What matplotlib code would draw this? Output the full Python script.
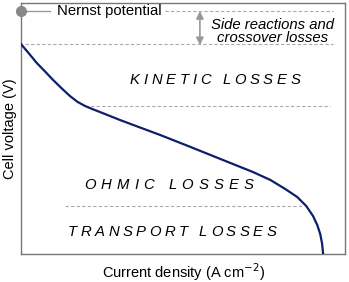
import numpy as np
import matplotlib.pyplot as plt
from matplotlib.font_manager import FontProperties
from matplotlib.textpath import TextToPath

plt.rcParams['font.family'] = ['Liberation Sans', 'DejaVu Sans']

# polarization curve (arbitrary units)
current = [0.0, 0.025, 0.049, 0.075, 0.099, 0.125, 0.151, 0.175, 0.198, 0.22, 0.244,
           0.306, 0.429, 0.52, 0.614, 0.716, 0.769, 0.815, 0.852, 0.880, 0.901,
           0.914, 0.923, 0.929, 0.932]
voltage = [1.046, 0.998, 0.951, 0.908, 0.867, 0.826, 0.787, 0.757, 0.737, 0.722, 0.707,
           0.667, 0.593, 0.535, 0.474, 0.408, 0.369, 0.324, 0.284, 0.239, 0.189,
           0.144, 0.100, 0.050, 0.0]

nernst = 1.21
v_side = 1.046
v_kinetic = 0.737
v_ohmic = 0.239

W, H, DPI = 349, 282, 100
fig = plt.figure(figsize=(W / DPI, H / DPI), dpi=DPI)
ax = fig.add_axes([0.060, 0.0993, 0.929, 0.890])
ax.set_xlim(0, 1)
ax.set_ylim(0, 1.25)

ax.plot(current, voltage, color='#0d1f6b', lw=1.6, solid_joinstyle='round', zorder=3)

# guide lines
dash = dict(color='#aaaaaa', lw=0.8, ls=(0, (3, 2)))
ax.plot([0.444, 0.963], [nernst, nernst], **dash)
ax.plot([0.012, 0.963], [v_side, v_side], **dash)
ax.plot([0.198, 0.954], [v_kinetic, v_kinetic], **dash)
ax.plot([0.136, 0.870], [v_ohmic, v_ohmic], **dash)

# Nernst marker
ax.plot([0, 0.09], [nernst, nernst], color='#999999', lw=1.0, clip_on=False)
ax.plot([0], [nernst], 'o', color='#888888', ms=7, clip_on=False, zorder=5)
ax.text(0.111, nernst, 'Nernst potential', fontsize=10.7, va='center', ha='left')

ax.annotate('', xy=(0.552, 1.04), xytext=(0.552, 1.21),
            arrowprops=dict(arrowstyle='<|-|>', color='#999999', lw=1.2,
                            mutation_scale=11, shrinkA=0, shrinkB=0))
ax.text(0.775, 1.14, 'Side reactions and', fontsize=10.7, style='italic', ha='center', va='center')
ax.text(0.775, 1.075, 'crossover losses', fontsize=10.7, style='italic', ha='center', va='center')


# letter-spaced italic labels, stretched between two x pixels
ttp = TextToPath()
def tracked(s, x0, x1, y, size=10.7):
    prop = FontProperties(family='Liberation Sans', style='italic', size=size)
    widths = [ttp.get_text_width_height_descent(c, prop, ismath=False)[0] * DPI / 72 for c in s]
    gap = (x1 - x0 - sum(widths)) / (len(s) - 1)
    x = x0
    for c, w in zip(s, widths):
        fig.text(x / W, 1 - y / H, c, fontproperties=prop, ha='left', va='center')
        x += w + gap

tracked('KINETIC LOSSES', 130, 300, 80)
tracked('OHMIC LOSSES', 84, 253, 185)
tracked('TRANSPORT LOSSES', 68, 276, 232)

ax.set_xticks([])
ax.set_yticks([])
for s in ax.spines.values():
    s.set_color('#777777')
    s.set_linewidth(1.0)

ax.set_xlabel('Current density (A cm$^{-2}$)', fontsize=10.5, labelpad=5)
ax.set_ylabel('Cell voltage (V)', fontsize=10.5, labelpad=3)

fig.savefig('out.png', dpi=DPI)
